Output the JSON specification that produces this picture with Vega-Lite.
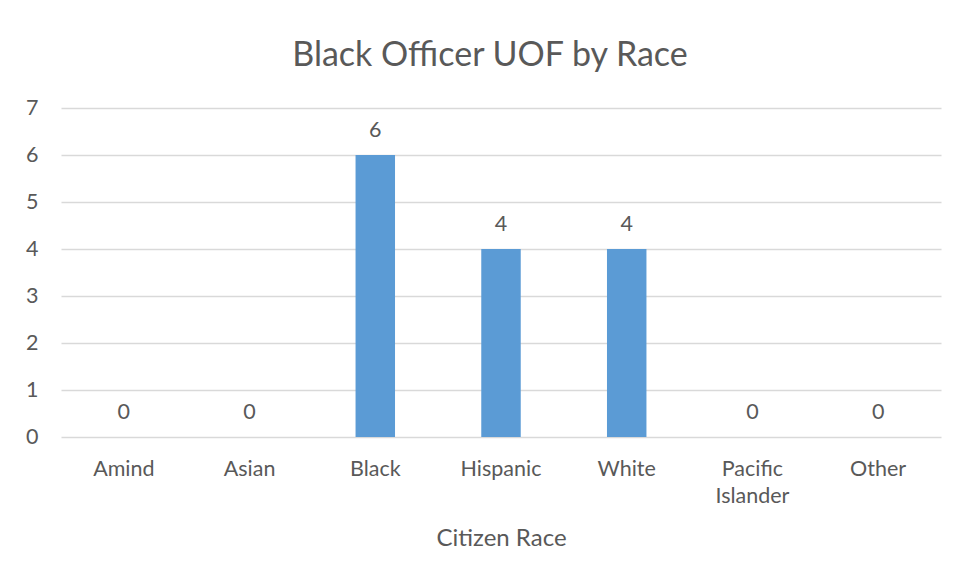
{
  "$schema": "https://vega.github.io/schema/vega-lite/v6.json",
  "width": 880,
  "height": 329,
  "autosize": {"type": "none"},
  "padding": {"left": 61, "top": 108, "right": 17, "bottom": 142},
  "background": "white",
  "title": {
    "text": "Black Officer UOF by Race",
    "font": "Lato",
    "fontSize": 34,
    "fontWeight": "normal",
    "color": "#595959",
    "anchor": "middle",
    "baseline": "alphabetic",
    "offset": -3,
    "dx": -11
  },
  "data": {
    "values": [
      {"race": "Amind", "count": 0},
      {"race": "Asian", "count": 0},
      {"race": "Black", "count": 6},
      {"race": "Hispanic", "count": 4},
      {"race": "White", "count": 4},
      {"race": "Pacific Islander", "count": 0},
      {"race": "Other", "count": 0}
    ]
  },
  "encoding": {
    "x": {
      "field": "race",
      "type": "nominal",
      "sort": null,
      "scale": {"paddingInner": 0.686, "paddingOuter": 0.343},
      "axis": {
        "title": "Citizen Race",
        "labelAngle": 0,
        "labelExpr": "datum.label == 'Pacific Islander' ? ['Pacific', 'Islander'] : datum.label",
        "labelLineHeight": 27,
        "labelPadding": 21,
        "domain": false,
        "ticks": false,
        "grid": false,
        "titlePadding": 20
      }
    },
    "y": {
      "field": "count",
      "type": "quantitative",
      "scale": {"domain": [0, 7], "nice": false},
      "axis": {
        "title": null,
        "values": [0, 1, 2, 3, 4, 5, 6, 7],
        "domain": false,
        "ticks": false,
        "labelPadding": 23,
        "gridColor": "#d9d9d9",
        "gridWidth": 1.5
      }
    }
  },
  "layer": [
    {"mark": {"type": "bar", "color": "#5b9bd5"}},
    {
      "mark": {
        "type": "text",
        "baseline": "alphabetic",
        "dy": -18,
        "font": "Lato",
        "fontSize": 21.5,
        "color": "#595959"
      },
      "encoding": {"text": {"field": "count", "type": "quantitative"}}
    }
  ],
  "config": {
    "view": {"stroke": null},
    "axis": {
      "labelFont": "Lato",
      "labelFontSize": 21.5,
      "labelColor": "#595959",
      "titleFont": "Lato",
      "titleFontSize": 24,
      "titleFontWeight": "normal",
      "titleColor": "#595959"
    }
  }
}
